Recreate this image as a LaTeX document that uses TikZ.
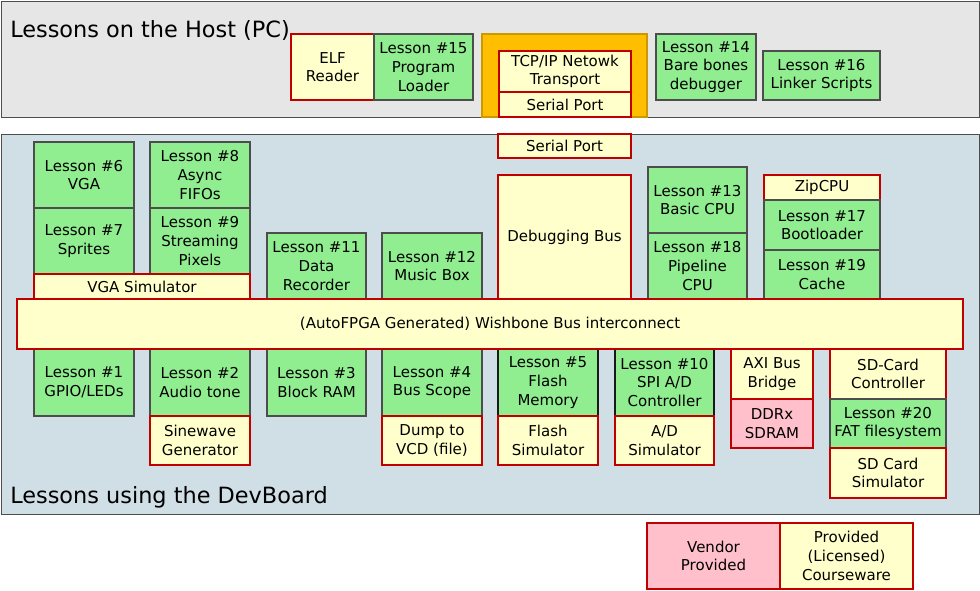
\documentclass[tikz,border=0pt]{standalone}
\usepackage{fontspec}
\setmainfont{DejaVu Sans}
\definecolor{hostbg}{HTML}{E6E6E6}
\definecolor{devbg}{HTML}{D0DFE6}
\definecolor{lgreen}{HTML}{90EE90}
\definecolor{lyellow}{HTML}{FFFFCC}
\definecolor{lpink}{HTML}{FFC0CB}
\definecolor{bred}{HTML}{C00000}
\definecolor{bgray}{HTML}{4D4D4D}
\definecolor{bdark}{HTML}{1A1A1A}
\definecolor{orng}{HTML}{FFBF00}
\newcommand\mybox[7]{\node[#1, anchor=north west, minimum width={(#5-#3)*0.75pt}, minimum height={(#6-#4)*0.75pt}] (#2) at (#3,#4) {#7};}
\tikzset{
  base/.style={rectangle, inner sep=0pt, outer sep=0pt, align=center, text=black,
    font=\fontsize{11.25pt}{14pt}\selectfont},
  gbox/.style={base, fill=lgreen, draw=bgray, line width=0.8pt},
  gboxd/.style={base, fill=lgreen, draw=bdark, line width=0.9pt},
  ybox/.style={base, fill=lyellow, draw=bred, line width=1pt},
  pbox/.style={base, fill=lpink, draw=bred, line width=1pt},
  obox/.style={base, fill=orng, draw=orng!80!black, line width=0.8pt},
  panel/.style={draw=bgray, line width=0.9pt},
  ptitle/.style={anchor=base west, inner sep=0pt, font=\fontsize{16.8pt}{20pt}\selectfont},
}
\begin{document}
\begin{tikzpicture}[x=0.75pt,y=-0.75pt]
\useasboundingbox (0,0) rectangle (980,591);
% panels
\node[panel, fill=hostbg, anchor=north west, minimum width=978*0.75pt, minimum height=116*0.75pt, inner sep=0pt] (host) at (1,1) {};
\node[panel, fill=devbg, anchor=north west, minimum width=978*0.75pt, minimum height=380*0.75pt, inner sep=0pt] (dev) at (1,134) {};
\node[ptitle] (hosttitle) at (10,38) {Lessons on the Host (PC)};
\node[ptitle] (devtitle) at (10,503) {Lessons using the DevBoard};
% host boxes
\mybox{ybox}{elf}{291}{34}{374}{100}{ELF\\Reader}
\mybox{gbox}{l15}{374}{34}{473}{100}{Lesson \#15\\Program\\Loader}
\mybox{obox}{orange}{482}{34}{647}{117}{}
\mybox{ybox}{tcp}{499}{51}{631}{92}{TCP/IP Netowk\\Transport}
\mybox{ybox}{sp1}{499}{92}{631}{117}{Serial Port}
\mybox{gbox}{l14}{656}{34}{756}{100}{Lesson \#14\\Bare bones\\debugger}
\mybox{gbox}{l16}{763}{51}{880}{100}{Lesson \#16\\Linker Scripts}
% devboard upper
\mybox{ybox}{sp2}{498}{134}{631}{158}{Serial Port}
\mybox{gbox}{l6}{34}{142}{134}{208}{Lesson \#6\\VGA}
\mybox{gbox}{l7}{34}{208}{134}{274}{Lesson \#7\\Sprites}
\mybox{gbox}{l8}{150}{142}{250}{208}{Lesson \#8\\Async\\FIFOs}
\mybox{gbox}{l9}{150}{208}{250}{274}{Lesson \#9\\Streaming\\Pixels}
\mybox{ybox}{vgasim}{34}{274}{250}{299}{VGA Simulator}
\mybox{gbox}{l11}{267}{233}{366}{299}{Lesson \#11\\Data\\Recorder}
\mybox{gbox}{l12}{382}{233}{482}{299}{Lesson \#12\\Music Box}
\mybox{ybox}{dbg}{498}{175}{631}{299}{Debugging Bus}
\mybox{gbox}{l13}{648}{167}{747}{233}{Lesson \#13\\Basic CPU}
\mybox{gbox}{l18}{648}{233}{747}{299}{Lesson \#18\\Pipeline\\CPU}
\mybox{ybox}{zip}{764}{175}{880}{200}{ZipCPU}
\mybox{gbox}{l17}{764}{200}{880}{250}{Lesson \#17\\Bootloader}
\mybox{gbox}{l19}{764}{250}{880}{299}{Lesson \#19\\Cache}
% devboard lower
\mybox{gbox}{l1}{34}{349}{134}{416}{Lesson \#1\\GPIO/LEDs}
\mybox{gbox}{l2}{150}{349}{250}{416}{Lesson \#2\\Audio tone}
\mybox{ybox}{sine}{150}{416}{250}{465}{Sinewave\\Generator}
\mybox{gbox}{l3}{267}{349}{366}{416}{Lesson \#3\\Block RAM}
\mybox{gbox}{l4}{382}{349}{482}{416}{Lesson \#4\\Bus Scope}
\mybox{ybox}{vcd}{382}{416}{482}{465}{Dump to\\VCD (file)}
\mybox{gboxd}{l5}{498}{349}{598}{416}{Lesson \#5\\Flash\\Memory}
\mybox{ybox}{flashsim}{498}{416}{598}{465}{Flash\\Simulator}
\mybox{gboxd}{l10}{615}{349}{714}{416}{Lesson \#10\\SPI A/D\\Controller}
\mybox{ybox}{adsim}{615}{416}{714}{465}{A/D\\Simulator}
\mybox{ybox}{axi}{731}{349}{813}{399}{AXI Bus\\Bridge}
\mybox{pbox}{ddr}{731}{399}{813}{448}{DDRx\\SDRAM}
\mybox{ybox}{sdctl}{830}{349}{946}{399}{SD-Card\\Controller}
\mybox{gbox}{l20}{830}{399}{946}{448}{Lesson \#20\\FAT filesystem}
\mybox{ybox}{sdsim}{830}{448}{946}{498}{SD Card\\Simulator}
% bus
\mybox{ybox}{bus}{17}{299}{963}{349}{(AutoFPGA Generated) Wishbone Bus interconnect}
% legend
\mybox{pbox}{vendor}{647}{523}{780}{589}{Vendor\\Provided}
\mybox{ybox}{course}{780}{523}{913}{589}{Provided\\(Licensed)\\Courseware}
\end{tikzpicture}
\end{document}
